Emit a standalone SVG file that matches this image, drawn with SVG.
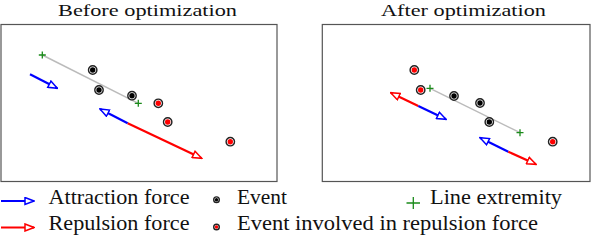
<svg xmlns="http://www.w3.org/2000/svg" width="592" height="240" viewBox="0 0 592 240">
<style>
.title{font-family:"Liberation Serif","Times New Roman",serif;font-size:17.5px;fill:#111;}
.leg{font-family:"Liberation Serif","Times New Roman",serif;font-size:21px;fill:#111;}
.panel{fill:#fff;stroke:#555;stroke-width:1.2;}
.seg{stroke:#bbb;stroke-width:1.5;fill:none;}
.ab{stroke:#0000ff;stroke-width:2.2;fill:none;}
.ar{stroke:#ff0000;stroke-width:2.2;fill:none;}
.ring{fill:#fff;stroke:#222;stroke-width:1.4;}
.cb{fill:#000;}
.cr{fill:#ff0000;}
.plus{stroke:#1a8a1a;stroke-width:1.3;fill:none;}
</style>
<defs>
<marker id="hb" viewBox="0 0 11 9" refX="10" refY="4.5" markerWidth="11" markerHeight="9" markerUnits="userSpaceOnUse" orient="auto">
<path d="M1,1 L10,4.5 L1,8 Z" fill="#fff" stroke="#0000ff" stroke-width="1.5" stroke-linejoin="miter"/>
</marker>
<marker id="hr" viewBox="0 0 11 9" refX="10" refY="4.5" markerWidth="11" markerHeight="9" markerUnits="userSpaceOnUse" orient="auto">
<path d="M1,1 L10,4.5 L1,8 Z" fill="#fff" stroke="#ff0000" stroke-width="1.5" stroke-linejoin="miter"/>
</marker>
<g id="ev"><circle r="4.2" class="ring"/><circle r="2.7" class="cb"/></g>
<g id="evr"><circle r="4.2" class="ring"/><circle r="2.7" class="cr"/></g>
<path id="pl" d="M-3.5,0 H3.5 M0,-3.5 V3.5" class="plus"/>
</defs>
<rect width="592" height="240" fill="#fff"/>

<g id="before">
<text class="title" x="147.5" y="15.5" text-anchor="middle" textLength="179" lengthAdjust="spacingAndGlyphs">Before optimization</text>
<rect class="panel" x="1" y="24.5" width="276" height="157"/>
<g id="before-line">
<line class="seg" x1="42.3" y1="55" x2="138.3" y2="103.3"/>
<use href="#pl" x="42.3" y="55"/>
<use href="#pl" x="138.3" y="103.3"/>
</g>
<g id="before-events">
<use href="#ev" x="92.7" y="70"/>
<use href="#ev" x="99" y="90"/>
<use href="#ev" x="132" y="95.7"/>
<use href="#evr" x="158.3" y="103.3"/>
<use href="#evr" x="167.7" y="122"/>
<use href="#evr" x="230.3" y="141.7"/>
</g>
<g id="before-forces">
<line class="ab" x1="30" y1="74.3" x2="57.3" y2="88.3" marker-end="url(#hb)"/>
<line class="ab" x1="127.7" y1="123.3" x2="100" y2="109" marker-end="url(#hb)"/>
<line class="ar" x1="127.7" y1="123.3" x2="201.7" y2="158.3" marker-end="url(#hr)"/>
</g>
</g>

<g id="after">
<text class="title" x="463.5" y="15.5" text-anchor="middle" textLength="165" lengthAdjust="spacingAndGlyphs">After optimization</text>
<rect class="panel" x="322.3" y="24.5" width="267.7" height="157"/>
<g id="after-line">
<line class="seg" x1="430" y1="88.3" x2="520" y2="132.7"/>
<use href="#pl" x="430" y="88.3"/>
<use href="#pl" x="520" y="132.7"/>
</g>
<g id="after-events">
<use href="#evr" x="414.3" y="70"/>
<use href="#evr" x="420.7" y="90"/>
<use href="#evr" x="552.7" y="141.7"/>
<use href="#ev" x="454" y="96"/>
<use href="#ev" x="480" y="103"/>
<use href="#ev" x="489.3" y="122"/>
</g>
<g id="after-forces">
<line class="ar" x1="418.3" y1="106" x2="390.7" y2="92.7" marker-end="url(#hr)"/>
<line class="ab" x1="418.3" y1="106" x2="446" y2="119.3" marker-end="url(#hb)"/>
<line class="ab" x1="508.3" y1="151.7" x2="480" y2="137.7" marker-end="url(#hb)"/>
<line class="ar" x1="508.3" y1="151.7" x2="536" y2="164.3" marker-end="url(#hr)"/>
</g>
</g>

<g id="legend">
<g id="leg-attraction">
<line class="ab" x1="1" y1="201" x2="34" y2="201" marker-end="url(#hb)"/>
<text class="leg" x="48.5" y="203.5" textLength="141" lengthAdjust="spacingAndGlyphs">Attraction force</text>
</g>
<g id="leg-repulsion">
<line class="ar" x1="1" y1="227.5" x2="34" y2="227.5" marker-end="url(#hr)"/>
<text class="leg" x="48.5" y="230" textLength="141" lengthAdjust="spacingAndGlyphs">Repulsion force</text>
</g>
<g id="leg-event">
<circle cx="216.5" cy="199.7" r="2.8" class="ring"/><circle cx="216.5" cy="199.7" r="1.7" class="cb"/>
<text class="leg" x="237" y="203.5" textLength="50" lengthAdjust="spacingAndGlyphs">Event</text>
</g>
<g id="leg-event-rep">
<circle cx="216.5" cy="227" r="2.8" class="ring"/><circle cx="216.5" cy="227" r="1.7" class="cr"/>
<text class="leg" x="237" y="230" textLength="301" lengthAdjust="spacingAndGlyphs">Event involved in repulsion force</text>
</g>
<g id="leg-extremity">
<path d="M406.5,203 H420 M413.3,197 V209" class="plus"/>
<text class="leg" x="430" y="203.5" textLength="132" lengthAdjust="spacingAndGlyphs">Line extremity</text>
</g>
</g>
</svg>
